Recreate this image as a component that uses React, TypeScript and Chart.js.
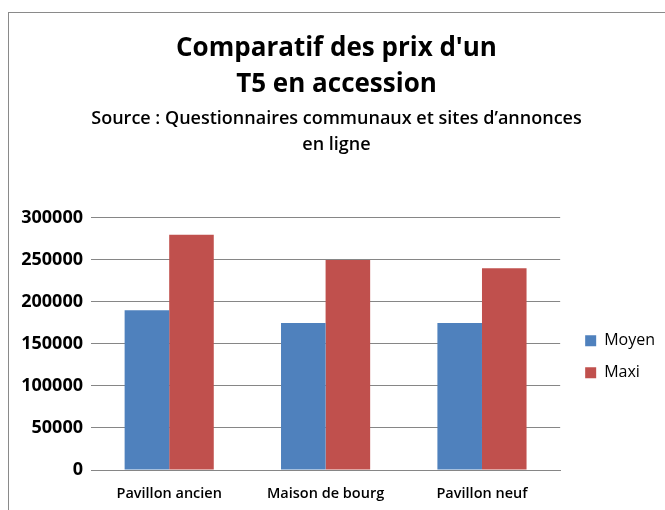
import React, { useEffect, useRef } from "react";
import { Chart, registerables } from "chart.js";

Chart.register(...registerables);

const categories = ["Pavillon ancien", "Maison de bourg", "Pavillon neuf"];
const moyenValues = [190000, 175000, 175000];
const maxiValues = [280000, 250000, 240000];
const titleLines = ["Comparatif des prix d'un", "T5 en accession"];
const subtitleLines = ["Source : Questionnaires communaux et sites d\u2019annonces", "en ligne"];

const FONT = "'Open Sans', Lato, sans-serif";

const framePlugin = {
  id: "frame",
  beforeDraw(chart: any) {
    const ctx = chart.ctx;
    ctx.save();
    ctx.fillStyle = "#ffffff";
    ctx.fillRect(0, 0, chart.width, chart.height);
    ctx.strokeStyle = "#8a8a8a";
    ctx.lineWidth = 1;
    ctx.strokeRect(8.5, 12.5, chart.width + 20, chart.height + 20);
    ctx.restore();
  },
};

export default function App() {
  const ref = useRef<HTMLCanvasElement | null>(null);
  useEffect(() => {
    if (!ref.current) return;
    const chart = new Chart(ref.current, {
      type: "bar",
      data: {
        labels: categories,
        datasets: [
          { label: "Moyen", data: moyenValues, backgroundColor: "#4F81BD", borderWidth: 0 },
          { label: "Maxi", data: maxiValues, backgroundColor: "#C0504D", borderWidth: 0 },
        ],
      },
      options: {
        responsive: false,
        animation: false,
        layout: { padding: { left: 8, right: 0, top: 0, bottom: 0 } },
        datasets: { bar: { categoryPercentage: 0.57, barPercentage: 1.0 } },
        plugins: {
          title: {
            display: true,
            text: titleLines,
            color: "#000",
            font: { family: FONT, size: 26, weight: "bold", lineHeight: 1.38 },
            padding: { top: 31, bottom: 0 },
          },
          subtitle: {
            display: true,
            text: subtitleLines,
            color: "#000",
            font: { family: FONT, size: 18, weight: "600", lineHeight: 1.45 },
            padding: { top: 3, bottom: 60 },
          },
          legend: {
            display: true,
            position: "right",
            fullSize: false,
            title: { display: true, text: "", padding: 5.5, font: { size: 12 } },
            labels: {
              boxWidth: 11,
              boxHeight: 11,
              padding: 16,
              color: "#000",
              font: { family: FONT, size: 16 },
            },
          },
          tooltip: { enabled: false },
        },
        scales: {
          x: {
            grid: { display: false, drawTicks: false },
            border: { display: true, color: "#868686" },
            ticks: { color: "#000", padding: 15, font: { family: FONT, size: 14.5, weight: "600" } },
            afterFit: (s: any) => {
              s.height = 40;
            },
          },
          y: {
            min: 0,
            max: 300000,
            grid: { color: "#868686", drawTicks: false },
            border: { display: false },
            ticks: {
              stepSize: 50000,
              color: "#000",
              padding: 8,
              font: { family: FONT, size: 18, weight: "bold" },
              callback: (v: any) => String(v),
            },
            afterFit: (s: any) => {
              s.width = 83;
            },
          },
          spacer: {
            type: "linear",
            position: "right",
            display: true,
            grid: { display: false },
            border: { display: false },
            ticks: { display: false },
            afterFit: (s: any) => {
              s.width = 9;
            },
          },
        },
      },
      plugins: [framePlugin],
    });
    return () => chart.destroy();
  }, []);
  return (
    <div style={{ position: "absolute", left: 0, top: 0, width: 665, height: 510 }}>
      <canvas ref={ref} width={665} height={510} style={{ width: 665, height: 510, display: "block" }} />
    </div>
  );
}
